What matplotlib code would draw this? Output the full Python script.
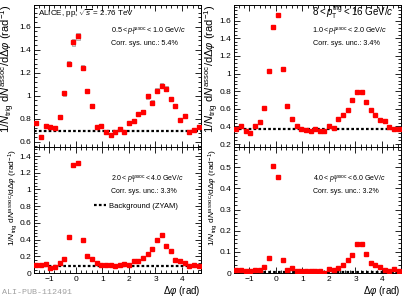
import numpy as np
import matplotlib
matplotlib.use('Agg')
import matplotlib.pyplot as plt
from matplotlib.ticker import MultipleLocator, AutoMinorLocator, FormatStrFormatter
from matplotlib.patches import Rectangle

plt.rcParams['font.family'] = ['Liberation Sans', 'DejaVu Sans']
plt.rcParams['mathtext.fontset'] = 'custom'
plt.rcParams['mathtext.rm'] = 'Liberation Sans'
plt.rcParams['mathtext.it'] = 'Liberation Sans:italic'
plt.rcParams['mathtext.bf'] = 'Liberation Sans:bold'
plt.rcParams['axes.unicode_minus'] = True

## datos ##
nbins = 36
dphi_edges = np.linspace(-np.pi / 2, 3 * np.pi / 2, nbins + 1)
dphi = 0.5 * (dphi_edges[:-1] + dphi_edges[1:])

y_05_10 = [0.76, 0.645, 0.74, 0.73, 0.72, 0.815, 1.02, 1.28, 1.465, 1.515,
           1.245, 1.04, 0.91, 0.725, 0.74, 0.685, 0.655, 0.685, 0.71, 0.685,
           0.76, 0.78, 0.84, 0.86, 0.995, 0.94, 1.045, 1.085, 1.06, 0.97,
           0.91, 0.785, 0.825, 0.685, 0.70, 0.73]
y_10_20 = [0.37, 0.405, 0.35, 0.325, 0.40, 0.445, 0.605, 1.03, 1.525, 1.665,
           1.055, 0.63, 0.485, 0.41, 0.37, 0.36, 0.345, 0.375, 0.35, 0.35,
           0.40, 0.385, 0.485, 0.535, 0.59, 0.705, 0.79, 0.79, 0.68, 0.59,
           0.535, 0.475, 0.465, 0.39, 0.375, 0.37]
y_20_40 = [0.092, 0.092, 0.104, 0.064, 0.076, 0.116, 0.172, 0.432, 1.295, 1.32,
           0.40, 0.204, 0.164, 0.12, 0.092, 0.092, 0.092, 0.08, 0.092, 0.112,
           0.092, 0.148, 0.148, 0.184, 0.224, 0.284, 0.40, 0.46, 0.328, 0.26,
           0.16, 0.148, 0.124, 0.084, 0.10, 0.08]
y_40_60 = [0.014, 0.012, 0.011, 0.011, 0.014, 0.014, 0.028, 0.073, 0.505, 0.455,
           0.063, 0.016, 0.023, 0.011, 0.011, 0.008, 0.008, 0.011, 0.011, -0.002,
           0.019, 0.016, 0.023, 0.039, 0.063, 0.083, 0.136, 0.139, 0.091, 0.045,
           0.036, 0.027, 0.013, 0.011, 0.019, 0.008]

zyam = [0.69, 0.365, 0.088, 0.006]
stat_err = [0.012, 0.012, 0.02, 0.008]
sys_rel = [0.02, 0.01, 0.015, 0.01]

assoc_labels = [r'$0.5 < p_{\rm T}^{\rm assoc} < 1.0$ GeV/$c$',
                r'$1.0 < p_{\rm T}^{\rm assoc} < 2.0$ GeV/$c$',
                r'$2.0 < p_{\rm T}^{\rm assoc} < 4.0$ GeV/$c$',
                r'$4.0 < p_{\rm T}^{\rm assoc} < 6.0$ GeV/$c$']
sys_labels = ['Corr. sys. unc.: 5.4%', 'Corr. sys. unc.: 3.4%',
              'Corr. sys. unc.: 3.3%', 'Corr. sys. unc.: 3.2%']
ylims = [(0.554, 1.793), (0.166, 1.784), (0.0, 1.508), (0.0, 0.596)]
ymajor = [0.2, 0.2, 0.2, 0.1]

ylabel = r'$1/N_{\rm trig}\ {\rm d}N^{\rm assoc}/{\rm d}\Delta\varphi\ ({\rm rad}^{-1})$'

###########################
W, H = 407, 297
fig = plt.figure(figsize=(W / 100, H / 100), dpi=100)

def rect(x0, y0, x1, y1):
    return [x0 / W, 1 - y1 / H, (x1 - x0) / W, (y1 - y0) / H]

axes = [fig.add_axes(rect(34, 4.5, 201, 147)),
        fig.add_axes(rect(234, 4.5, 401, 147)),
        fig.add_axes(rect(34, 147, 201, 273)),
        fig.add_axes(rect(234, 147, 401, 273))]
series = [y_05_10, y_10_20, y_20_40, y_40_60]
bw = dphi_edges[1] - dphi_edges[0]

for i, ax in enumerate(axes):
    y = np.array(series[i])
    # cajas sistematicas
    for xc, yc in zip(dphi, y):
        h = abs(yc) * sys_rel[i]
        ax.add_patch(Rectangle((xc - 0.35 * bw, yc - h), 0.7 * bw, 2 * h,
                               facecolor='#e6e6e6', edgecolor='#a8a8a8', lw=0.6, zorder=2))
    ax.axhline(zyam[i], color='black', ls=(0, (1.2, 1.0)), lw=1.6, zorder=3,
               label='Background (ZYAM)')
    ax.errorbar(dphi, y, yerr=stat_err[i], fmt='s', color='#ff0000', ms=3.0,
                mec='#ff0000', elinewidth=0.6, capsize=0, zorder=4)
    ax.set_xlim(-np.pi / 2, 3 * np.pi / 2)
    ax.set_ylim(*ylims[i])
    ax.xaxis.set_major_locator(MultipleLocator(1))
    ax.xaxis.set_minor_locator(AutoMinorLocator(5))
    ax.yaxis.set_major_locator(MultipleLocator(ymajor[i]))
    ax.yaxis.set_minor_locator(AutoMinorLocator(5))
    ax.yaxis.set_major_formatter(FormatStrFormatter('%g'))
    ax.tick_params(which='both', direction='in', top=True, right=True,
                   labelsize=6, pad=2, width=0.6)
    ax.tick_params(which='major', length=4)
    ax.tick_params(which='minor', length=2)
    for s in ax.spines.values():
        s.set_linewidth(0.7)
    top = i < 2
    if top:
        ax.tick_params(labelbottom=False)
        ax.set_ylabel(ylabel, fontsize=8.0, loc='top')
        ax.text(0.461 if i == 0 else 0.467, 0.807, assoc_labels[i],
                transform=ax.transAxes, fontsize=5.2, va='center')
        ax.text(0.461 if i == 0 else 0.473, 0.723, sys_labels[i],
                transform=ax.transAxes, fontsize=5.2, va='center')
    else:
        ax.set_ylabel(ylabel, fontsize=6.0, loc='top')
        ax.set_xlabel(r'$\Delta\varphi$ (rad)', fontsize=7, loc='right', labelpad=1)
        ax.text(0.461 if i == 2 else 0.473, 0.738, assoc_labels[i],
                transform=ax.transAxes, fontsize=5.0, va='center')
        ax.text(0.461 if i == 2 else 0.473, 0.643, sys_labels[i],
                transform=ax.transAxes, fontsize=5.0, va='center')

axes[0].yaxis.set_label_coords(-0.100, 1.0)
axes[1].yaxis.set_label_coords(-0.080, 1.0)
axes[2].yaxis.set_label_coords(-0.084, 0.98)
axes[3].yaxis.set_label_coords(-0.086, 0.98)

axes[0].text(0.024, 0.916, r'ALICE, pp, $\sqrt{s}$ = 2.76 TeV',
             transform=axes[0].transAxes, fontsize=5.8, va='baseline')
axes[1].text(0.467, 0.921, r'$8 < p_{\rm T}^{\rm trig} < 16$ GeV/$c$',
             transform=axes[1].transAxes, fontsize=7.0, va='baseline')

leg = axes[2].legend(loc='center left', bbox_to_anchor=(0.36, 0.532), frameon=False,
                     fontsize=5.5, handlelength=1.5, handletextpad=0.4,
                     borderpad=0, borderaxespad=0)

fig.text(2 / W, 1 - 293 / H, 'ALI-PUB-112491', fontsize=6, color='#a0a0a0',
         family='Liberation Mono', va='center', ha='left')

fig.savefig('out.png', dpi=100)
